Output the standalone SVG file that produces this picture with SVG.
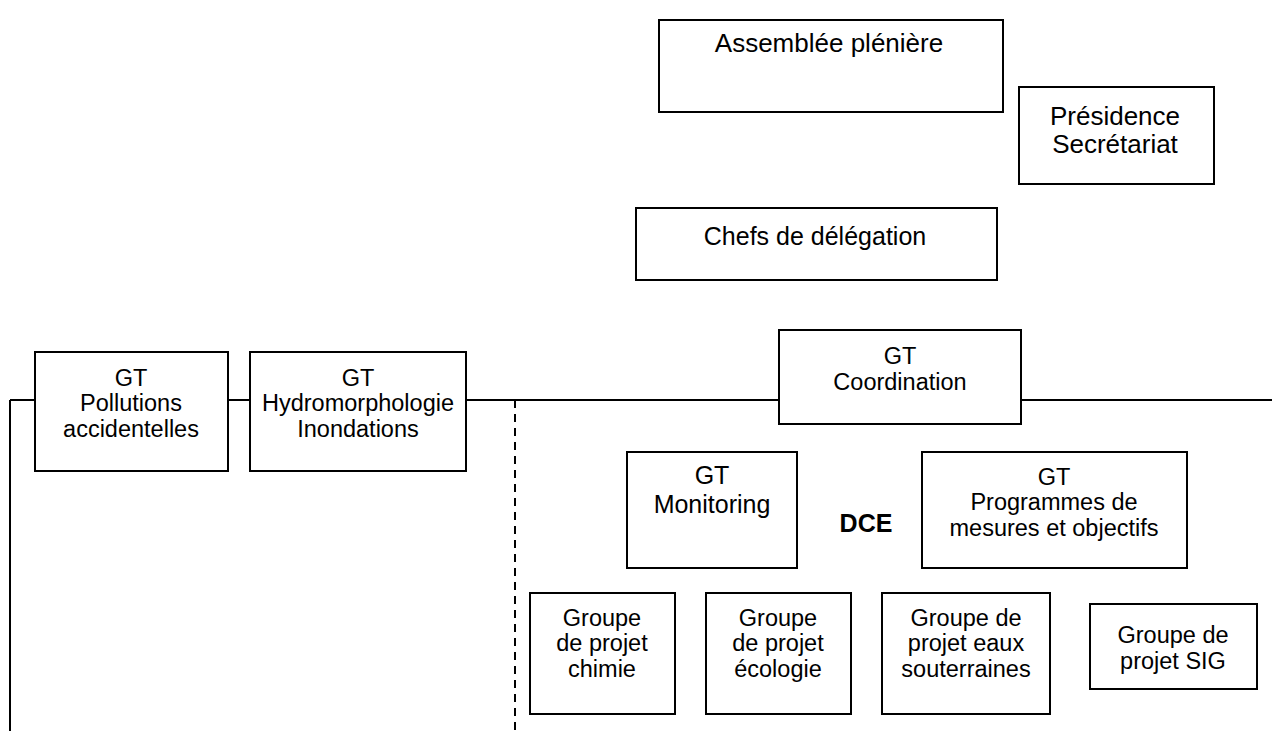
<svg xmlns="http://www.w3.org/2000/svg" width="1272" height="731" viewBox="0 0 1272 731">
  <style>
    .box { fill: #ffffff; stroke: #000000; stroke-width: 2; }
    .ln { fill: none; stroke: #000000; stroke-width: 2; }
    .dash { fill: none; stroke: #000000; stroke-width: 2; stroke-dasharray: 8 6; }
    text { font-family: "Liberation Sans", Arial, sans-serif; fill: #000000; text-anchor: middle; }
    .t26 { font-size: 26px; }
    .t25 { font-size: 25px; }
    .t23 { font-size: 23.5px; }
    .b { font-weight: bold; font-size: 25px; }
  </style>
  <rect width="1272" height="731" fill="#ffffff"/>

  <!-- connectors -->
  <g id="connectors">
    <line class="ln" x1="10" y1="400" x2="1272" y2="400"/>
    <line class="ln" x1="10" y1="400" x2="10" y2="731"/>
    <line class="dash" x1="515" y1="400" x2="515" y2="731"/>
  </g>

  <g id="assemblee">
    <rect class="box" x="659" y="20" width="344" height="92"/>
    <text class="t26" x="829" y="52">Assemblée plénière</text>
  </g>

  <g id="presidence">
    <rect class="box" x="1019" y="87" width="195" height="97"/>
    <text class="t26" x="1115" y="125">Présidence</text>
    <text class="t26" x="1115" y="153">Secrétariat</text>
  </g>

  <g id="chefs">
    <rect class="box" x="636" y="208" width="361" height="72"/>
    <text class="t25" x="815" y="245">Chefs de délégation</text>
  </g>

  <g id="gt-coordination">
    <rect class="box" x="779" y="330" width="242" height="94"/>
    <text class="t23" x="900" y="364">GT</text>
    <text class="t23" x="900" y="390">Coordination</text>
  </g>

  <g id="gt-pollutions">
    <rect class="box" x="35" y="352" width="193" height="119"/>
    <text class="t23" x="131" y="386">GT</text>
    <text class="t23" x="131" y="411">Pollutions</text>
    <text class="t23" x="131" y="437">accidentelles</text>
  </g>

  <g id="gt-hydromorphologie">
    <rect class="box" x="250" y="352" width="216" height="119"/>
    <text class="t23" x="358" y="386">GT</text>
    <text class="t23" x="358" y="411">Hydromorphologie</text>
    <text class="t23" x="358" y="437">Inondations</text>
  </g>

  <g id="gt-monitoring">
    <rect class="box" x="627" y="452" width="170" height="116"/>
    <text class="t25" x="712" y="484">GT</text>
    <text class="t25" x="712" y="513">Monitoring</text>
  </g>

  <g id="dce">
    <text class="b" x="866" y="532">DCE</text>
  </g>

  <g id="gt-programmes">
    <rect class="box" x="922" y="452" width="265" height="116"/>
    <text class="t23" x="1054" y="485">GT</text>
    <text class="t23" x="1054" y="510">Programmes de</text>
    <text class="t23" x="1054" y="536">mesures et objectifs</text>
  </g>

  <g id="groupe-chimie">
    <rect class="box" x="530" y="593" width="145" height="121"/>
    <text class="t23" x="602" y="626">Groupe</text>
    <text class="t23" x="602" y="651">de projet</text>
    <text class="t23" x="602" y="677">chimie</text>
  </g>

  <g id="groupe-ecologie">
    <rect class="box" x="706" y="593" width="145" height="121"/>
    <text class="t23" x="778" y="626">Groupe</text>
    <text class="t23" x="778" y="651">de projet</text>
    <text class="t23" x="778" y="677">écologie</text>
  </g>

  <g id="groupe-eaux">
    <rect class="box" x="882" y="593" width="168" height="121"/>
    <text class="t23" x="966" y="626">Groupe de</text>
    <text class="t23" x="966" y="651">projet eaux</text>
    <text class="t23" x="966" y="677">souterraines</text>
  </g>

  <g id="groupe-sig">
    <rect class="box" x="1090" y="604" width="167" height="85"/>
    <text class="t23" x="1173" y="643">Groupe de</text>
    <text class="t23" x="1173" y="669">projet SIG</text>
  </g>
</svg>
